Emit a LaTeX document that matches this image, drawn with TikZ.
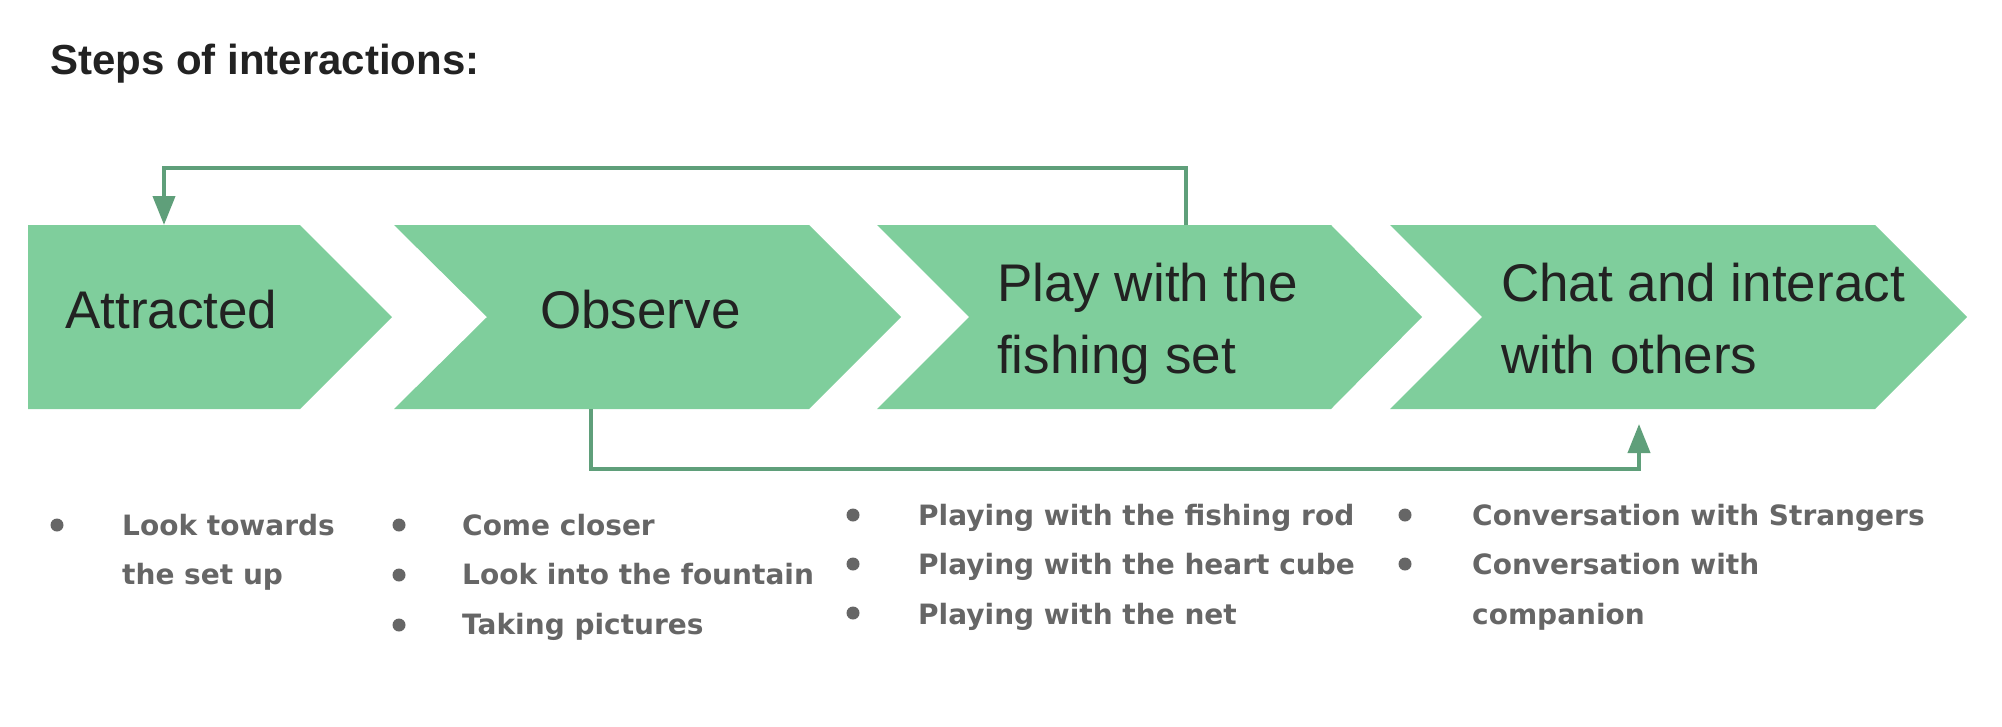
\documentclass[tikz,border=0pt]{standalone}
\usepackage{fontspec}
\setmainfont{Liberation Sans}
\newfontfamily\itemfont{DejaVu Sans}
\usepackage{tikz}
\usetikzlibrary{arrows.meta,positioning}

\definecolor{stagegreen}{HTML}{7FCE9C}
\definecolor{flowgreen}{HTML}{5F9F7A}
\definecolor{inkdark}{HTML}{222222}
\definecolor{inkgray}{HTML}{666666}

\tikzset{
  stage/.style={fill=stagegreen},
  stagetext/.style={anchor=base west, inner sep=0pt, align=left, text=inkdark,
    font=\fontsize{53}{72}\selectfont},
  itemtext/.style={anchor=base west, inner sep=0pt, align=left, text=inkgray,
    font=\itemfont\bfseries\fontsize{28}{49.5}\selectfont},
  dot/.style={circle, fill=inkgray, inner sep=0pt, minimum size=13pt},
  flow/.style={draw=flowgreen, line width=4pt, -{Triangle[length=29pt,width=22pt]}}
}

\begin{document}
\begin{tikzpicture}[x=1pt,y=-1pt]
\useasboundingbox (0,0) rectangle (2002,726);

\node[anchor=base west, inner sep=0pt, text=inkdark,
  font=\bfseries\fontsize{42}{50}\selectfont] (title) at (50,74) {Steps of interactions:};

% the four stages
\fill[stage] (28,225) -- (300,225) -- (392,317) -- (300,409) -- (28,409) -- cycle;
\fill[stage] (394,225) -- (809,225) -- (901,317) -- (809,409) -- (394,409) -- (487,317) -- cycle;
\fill[stage] (877,225) -- (1331,225) -- (1422,317) -- (1331,409) -- (877,409) -- (969,317) -- cycle;
\fill[stage] (1390,225) -- (1875,225) -- (1967,317) -- (1875,409) -- (1390,409) -- (1482,317) -- cycle;

% base anchor sits on the last line
\node[stagetext] (attracted) at (65,328) {Attracted};
\node[stagetext] (observe) at (540,328) {Observe};
\node[stagetext] (play) at (997,373) {Play with the\\fishing set};
\node[stagetext] (chat) at (1501,373) {Chat and interact\\with others};

\coordinate (attracted top) at (164,225);
\coordinate (play top) at (1186,225);
\coordinate (observe bottom) at (591,409);
\coordinate (chat bottom) at (1639,424);

\draw[flow] (play top) -- ++(0,-57) -| (attracted top);
\draw[flow] (observe bottom) -- ++(0,60) -| (chat bottom);

% what people did at each stage
\node[itemtext] (items1) at (122,584.5) {Look towards\\the set up};
\node[itemtext] (items2) at (462,634) {Come closer\\Look into the fountain\\Taking pictures};
\node[itemtext] (items3) at (918,624) {Playing with the fishing rod\\Playing with the heart cube\\Playing with the net};
\node[itemtext] (items4) at (1472,624) {Conversation with Strangers\\Conversation with\\companion};

\node[dot] (d1) at (57,525) {};
\node[dot] (d2) at (399,525) {};
\node[dot] (d3) at (399,575) {};
\node[dot] (d4) at (399,625) {};
\node[dot] (d5) at (853,515) {};
\node[dot] (d6) at (853,564) {};
\node[dot] (d7) at (853,613) {};
\node[dot] (d8) at (1405,515) {};
\node[dot] (d9) at (1405,564) {};
\end{tikzpicture}
\end{document}
